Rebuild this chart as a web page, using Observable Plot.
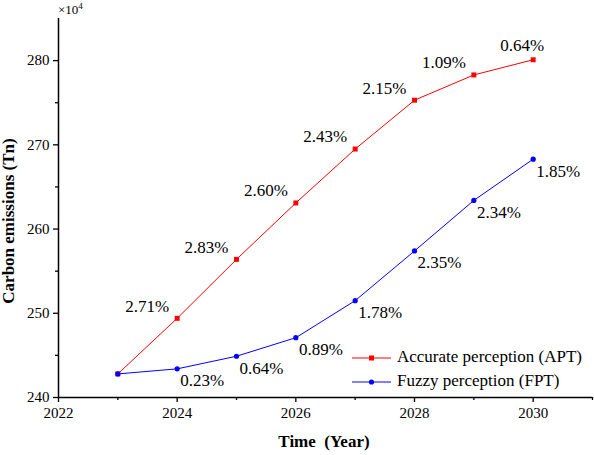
<!DOCTYPE html>
<html>
<head>
<meta charset="utf-8">
<script src="https://cdn.jsdelivr.net/npm/d3@7"></script>
<script src="https://cdn.jsdelivr.net/npm/@observablehq/plot@0.6"></script>
<style>
  html, body { margin: 0; padding: 0; background: #fff; }
  #chart { width: 594px; height: 455px; }
  #chart svg, #chart svg text { font-family: "Liberation Serif", "Times New Roman", serif; }
</style>
</head>
<body>
<div id="chart"></div>
<script>
const years = [2023, 2024, 2025, 2026, 2027, 2028, 2029, 2030];
const aptValues = [242.8, 249.4, 256.4, 263.1, 269.5, 275.3, 278.3, 280.1];
const fptValues = [242.8, 243.4, 244.9, 247.1, 251.5, 257.4, 263.4, 268.3];
const aptRates = [null, "2.71%", "2.83%", "2.60%", "2.43%", "2.15%", "1.09%", "0.64%"];
const fptRates = [null, "0.23%", "0.64%", "0.89%", "1.78%", "2.35%", "2.34%", "1.85%"];
const xTicks = [2022, 2024, 2026, 2028, 2030];
const xMinorTicks = [2023, 2025, 2027, 2029, 2031];
const yTicks = [240, 250, 260, 270, 280];
const yMinorTicks = [245, 255, 265, 275];
const seriesNames = ["Accurate perception (APT)", "Fuzzy perception (FPT)"];

const apt = years.map((year, i) => ({year, value: aptValues[i], rate: aptRates[i]}));
const fpt = years.map((year, i) => ({year, value: fptValues[i], rate: fptRates[i]}));

const RED = "#ff0000", BLUE = "#0000ff";
const font = "'Liberation Serif', 'Times New Roman', serif";

const chart = Plot.plot({
  width: 594,
  height: 455,
  marginLeft: 58,
  marginTop: 18,
  marginBottom: 58,
  marginRight: 2,
  style: {fontFamily: font, fontSize: "14px", color: "#000", background: "#fff", overflow: "visible"},
  x: {domain: [2022, 2031]},
  y: {domain: [240, 285]},
  marks: [
    Plot.axisX({ticks: xTicks, tickFormat: d => String(d), tickSize: 5, tickPadding: 5, fontSize: 15, fontFamily: font, label: null, strokeWidth: 1.3}),
    Plot.axisX({ticks: xMinorTicks, tickFormat: () => "", tickSize: 3, label: null, strokeWidth: 1.3}),
    Plot.axisY({ticks: yTicks, tickFormat: d => String(d), tickSize: 5, tickPadding: 4, fontSize: 15, fontFamily: font, label: null, strokeWidth: 1.3}),
    Plot.axisY({ticks: yMinorTicks, tickFormat: () => "", tickSize: 3, label: null, strokeWidth: 1.3}),
    Plot.ruleY([240], {stroke: "#000", strokeWidth: 1.5}),
    Plot.ruleX([2022], {stroke: "#000", strokeWidth: 1.5}),
    Plot.line(apt, {x: "year", y: "value", stroke: RED, strokeWidth: 1}),
    Plot.line(fpt, {x: "year", y: "value", stroke: BLUE, strokeWidth: 1}),
    Plot.dot(apt, {x: "year", y: "value", symbol: "square", r: 2.8, fill: RED, stroke: "none"}),
    Plot.dot(fpt, {x: "year", y: "value", symbol: "circle", r: 2.6, fill: BLUE, stroke: "none"}),
    Plot.text(apt.filter(d => d.rate && d.year < 2030), {x: "year", y: "value", text: "rate", dx: -30, dy: -12, fontSize: 17, fontFamily: font, fill: "#000"}),
    Plot.text(apt.filter(d => d.rate && d.year === 2030), {x: "year", y: "value", text: "rate", dx: -11, dy: -14, fontSize: 17, fontFamily: font, fill: "#000"}),
    Plot.text(fpt.filter(d => d.rate), {x: "year", y: "value", text: "rate", dx: 25, dy: 12, fontSize: 17, fontFamily: font, fill: "#000"})
  ]
});

document.getElementById("chart").appendChild(chart);

const svg = d3.select(chart);
// axis titles
svg.append("text")
  .attr("x", 324).attr("y", 443)
  .attr("text-anchor", "middle").attr("dominant-baseline", "middle")
  .style("font-family", font).style("font-size", "17px").style("font-weight", "bold")
  .style("white-space", "pre")
  .text("Time  (Year)");
svg.append("text")
  .attr("transform", "translate(10,221) rotate(-90)")
  .attr("text-anchor", "middle").attr("dominant-baseline", "middle")
  .style("font-family", font).style("font-size", "17px").style("font-weight", "bold")
  .text("Carbon emissions (Tn)");
// multiplier
const mult = svg.append("text")
  .attr("x", 58).attr("y", 14).attr("text-anchor", "start")
  .style("font-family", font).style("font-size", "13px");
mult.append("tspan").text("×10");
mult.append("tspan").attr("dy", -5).style("font-size", "9px").text("4");

// legend
const legend = [
  {name: seriesNames[0], color: RED, symbol: "square", y: 358},
  {name: seriesNames[1], color: BLUE, symbol: "circle", y: 382}
];
legend.forEach(l => {
  const g = svg.append("g");
  g.append("line").attr("x1", 352).attr("x2", 391).attr("y1", l.y).attr("y2", l.y)
    .attr("stroke", l.color).attr("stroke-width", 1);
  if (l.symbol === "square") {
    g.append("rect").attr("x", 369).attr("y", l.y - 2.5).attr("width", 5).attr("height", 5).attr("fill", l.color);
  } else {
    g.append("circle").attr("cx", 371.5).attr("cy", l.y).attr("r", 2.6).attr("fill", l.color);
  }
  g.append("text").attr("x", 397).attr("y", l.y).attr("text-anchor", "start").attr("dominant-baseline", "middle")
    .style("font-family", font).style("font-size", "17px").text(l.name);
});
</script>
</body>
</html>
